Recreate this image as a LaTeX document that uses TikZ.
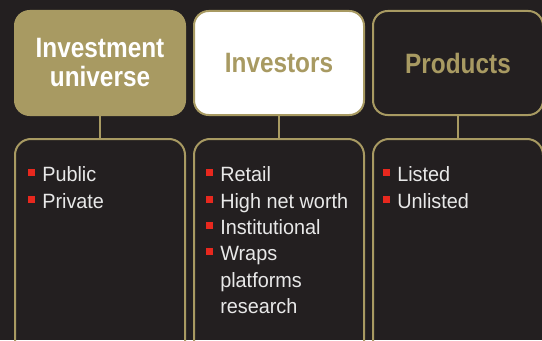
\documentclass[tikz,border=0pt]{standalone}
\usepackage{fontspec}
\usepackage{xcolor}
\usepackage{tikz}
\newfontfamily\headfont[FakeStretch=0.87]{Liberation Sans}
\newfontfamily\listfont[FakeStretch=0.96]{Liberation Sans}
\definecolor{IVDark}{HTML}{231F20}
\definecolor{IVGold}{HTML}{A89A62}
\definecolor{IVRed}{HTML}{E8281E}
\definecolor{IVText}{HTML}{E8E8E8}
\newcommand{\redsq}{\textcolor{IVRed}{\rule[4.1pt]{5.25pt}{5.25pt}}\hspace{5.25pt}}
\newcommand{\nosq}{\hspace{10.5pt}}
\tikzset{
  headbox/.style={draw=IVGold,line width=1.5pt,rounded corners=11pt,
    minimum width=127.5pt,minimum height=78pt,align=center,
    font=\headfont\bfseries\fontsize{21}{21.75}\selectfont},
  listbox/.style={draw=IVGold,line width=1.5pt,rounded corners=12pt,
    minimum width=127.5pt,minimum height=180.75pt},
  listtext/.style={anchor=north west,inner sep=0pt,align=left,text=IVText,
    font=\listfont\fontsize{15.5}{19.7}\selectfont},
  link/.style={draw=IVGold,line width=1.5pt}
}

\begin{document}
\begin{tikzpicture}[x=0.75pt,y=0.75pt]
\path[use as bounding box] (0,0) rectangle (542,340);
\clip (0,0) rectangle (542,340);
\fill[IVDark] (0,0) rectangle (542,340);
% header row
\node[headbox,fill=IVGold,text=white] (univ) at (100,277) {Investment\\universe};
\node[headbox,fill=white,text=IVGold] (inv) at (279,277) {Investors};
\node[headbox,fill=IVDark,text=IVGold] (prod) at (458,277) {Products};
% list row, running off the bottom edge
\node[listbox] (univlist) at (100,80.5) {};
\node[listbox] (invlist) at (279,80.5) {};
\node[listbox] (prodlist) at (458,80.5) {};
\draw[link] (univ.south) -- (univlist.north);
\draw[link] (inv.south) -- (invlist.north);
\draw[link] (prod.south) -- (prodlist.north);
\node[listtext] (univitems) at (28,173.3) {\redsq Public\\\redsq Private};
\node[listtext] (invitems) at (206,173.3) {\redsq Retail\\\redsq High net worth\\\redsq Institutional\\\redsq Wraps\\\nosq platforms\\\nosq research};
\node[listtext] (proditems) at (383,173.3) {\redsq Listed\\\redsq Unlisted};
\end{tikzpicture}
\end{document}
